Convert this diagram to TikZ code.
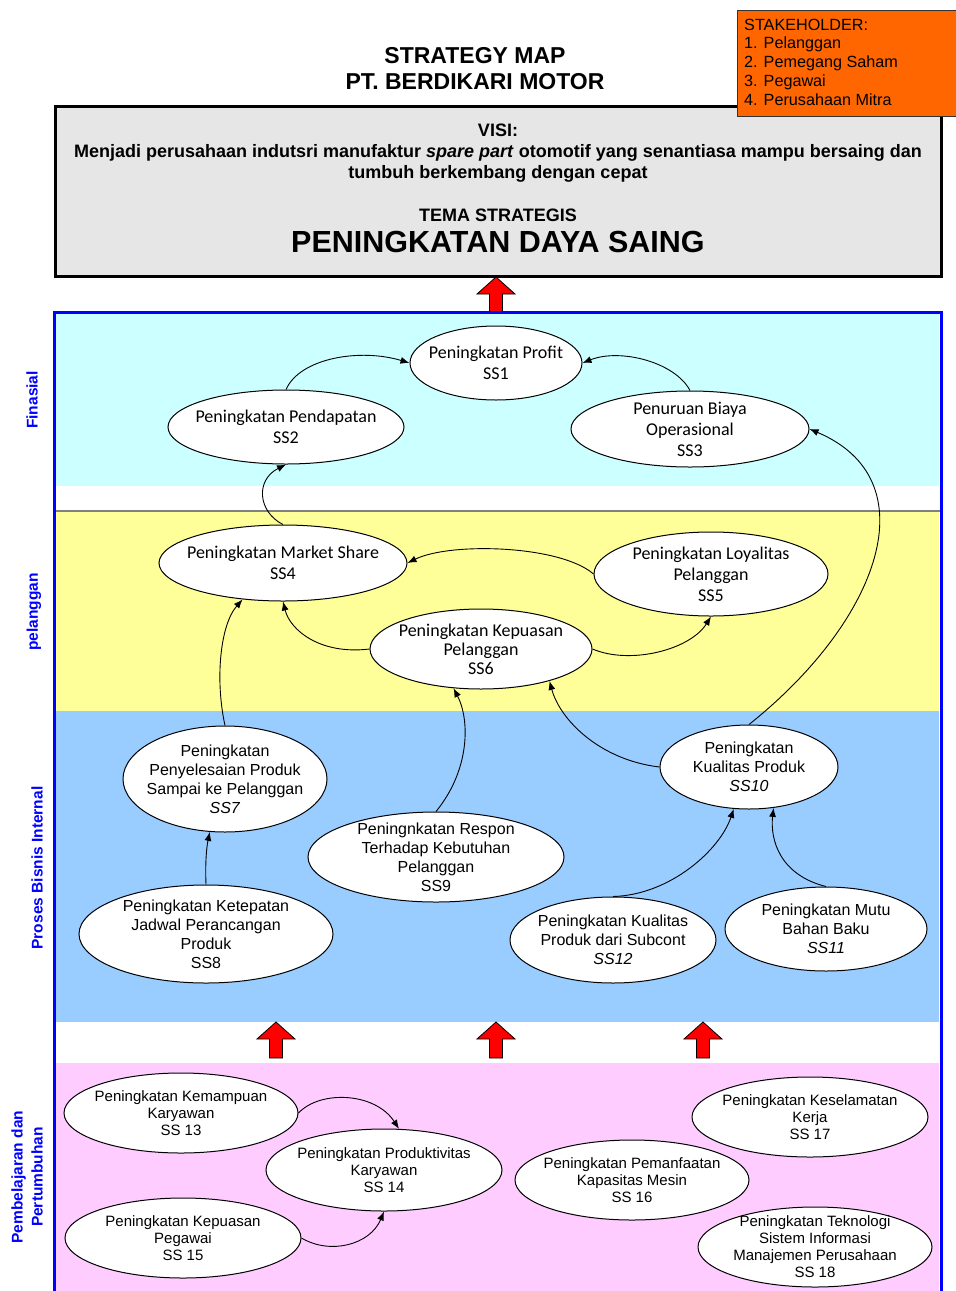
\documentclass[tikz,border=0pt]{standalone}
\usepackage{fontspec}
\setmainfont{Liberation Sans}
\newfontfamily\calibri{Carlito}
\usepackage{xcolor}
\usetikzlibrary{arrows.meta,shapes.geometric}
\definecolor{finbg}{HTML}{CCFFFF}
\definecolor{cusbg}{HTML}{FFFF99}
\definecolor{intbg}{HTML}{99CCFF}
\definecolor{lrnbg}{HTML}{FFCCFF}
\definecolor{visibg}{HTML}{E6E6E6}
\definecolor{stakebg}{HTML}{FF6600}
\definecolor{persp}{HTML}{0000FF}
\tikzset{%
	goal/.style        = {draw, ellipse, fill=white, line width=1pt, inner sep=-15pt, align=center, text centered},
	goalA/.style       = {goal, font=\calibri\fontsize{18}{21}\selectfont},
	goalB/.style       = {goal, font=\fontsize{16}{19}\selectfont},
	goalC/.style       = {goal, font=\fontsize{15}{17}\selectfont},
	link/.style        = {line width=0.9pt, -{Latex[length=9pt,width=7pt]}},
	perspective/.style = {rotate=90, text=persp, align=center, font=\bfseries\fontsize{15.5}{20}\selectfont},
	blockarrow/.style  = {fill=red, draw=black, line width=0.8pt},
}
\begin{document}
\begin{tikzpicture}[x=1pt,y=-1pt]
	\useasboundingbox (0,0) rectangle (956,1291);
	\clip (0,0) rectangle (956,1291);
	% perspektif
	\fill[finbg] (55,313) rectangle (939,486);
	\fill[cusbg] (55,512) rectangle (939,711);
	\fill[intbg] (55,711) rectangle (939,1022);
	\fill[lrnbg] (55,1063) rectangle (939,1300);
	\draw[gray, line width=1.5] (55,511) -- (941,511);
	\foreach \ax/\ay in {496/277, 276/1022, 496/1022, 703/1022}
		\draw[blockarrow] (\ax,\ay) -- ++(19,17) -- ++(-12.5,0) -- ++(0,19) -- ++(-13,0) -- ++(0,-19) -- ++(-12.5,0) -- cycle;
	\draw[persp, line width=3] (54,1300) -- (54,312) -- (941,312) -- (941,1300);
	\node[perspective] (pfin) at (32,400) {Finasial};
	\node[perspective] (pcus) at (34,612) {pelanggan};
	\node[perspective] (pint) at (37,868) {Proses Bisnis Internal};
	\node[perspective] (plrn) at (27,1177) {Pembelajaran dan\\Pertumbuhan};
	% judul, visi
	\node[align=center, font=\bfseries\fontsize{23}{26}\selectfont] (title) at (475,69) {STRATEGY MAP\\PT. BERDIKARI MOTOR};
	\draw[fill=visibg, line width=3] (55,106) rectangle (941,276);
	\node[align=center, font=\bfseries\fontsize{18}{21}\selectfont] (visi) at (498,153) {VISI:\\Menjadi perusahaan indutsri manufaktur \textit{spare part} otomotif yang senantiasa mampu bersaing dan\\tumbuh berkembang dengan cepat};
	\node[font=\bfseries\fontsize{18}{21}\selectfont] (tema) at (498,215) {TEMA STRATEGIS};
	\node[font=\bfseries\fontsize{30.5}{33}\selectfont] (daya) at (498,242) {PENINGKATAN DAYA SAING};
	\draw[fill=stakebg, draw=black!80, line width=0.8] (737,10) rectangle (970,116);
	\node[anchor=north west, inner sep=0pt, align=left, font=\fontsize{16.2}{18.8}\selectfont] (stake) at (744,18.5) {STAKEHOLDER:\\1. Pelanggan\\2. Pemegang Saham\\3. Pegawai\\4. Perusahaan Mitra};
	% sasaran strategis
	\node[goalA, minimum width=172, minimum height=74] (ss1) at (496,363) {Peningkatan Profit\\SS1};
	\node[goalA, minimum width=236, minimum height=74] (ss2) at (286,427) {Peningkatan Pendapatan\\SS2};
	\node[goalA, minimum width=238, minimum height=76] (ss3) at (690,429) {Penuruan Biaya\\Operasional\\SS3};
	\node[goalA, minimum width=248, minimum height=76] (ss4) at (283,563) {Peningkatan Market Share\\SS4};
	\node[goalA, minimum width=234, minimum height=84] (ss5) at (711,574) {Peningkatan Loyalitas\\Pelanggan\\SS5};
	\node[goalA, font=\calibri\fontsize{18}{19}\selectfont, minimum width=222, minimum height=80] (ss6) at (481,649) {Peningkatan Kepuasan\\Pelanggan\\SS6};
	\node[goalB, minimum width=204, minimum height=106] (ss7) at (225,779) {Peningkatan\\Penyelesaian Produk\\Sampai ke Pelanggan\\\textit{SS7}};
	\node[goalB, minimum width=254, minimum height=98] (ss8) at (206,934) {Peningkatan Ketepatan\\Jadwal Perancangan\\Produk\\SS8};
	\node[goalB, minimum width=256, minimum height=90] (ss9) at (436,857) {Peningnkatan Respon\\Terhadap Kebutuhan\\Pelanggan\\SS9};
	\node[goalB, minimum width=178, minimum height=84] (ss10) at (749,767) {Peningkatan\\Kualitas Produk\\\textit{SS10}};
	\node[goalB, minimum width=202, minimum height=84] (ss11) at (826,929) {Peningkatan Mutu\\Bahan Baku\\\textit{SS11}};
	\node[goalB, minimum width=206, minimum height=86] (ss12) at (613,940) {Peningkatan Kualitas\\Produk dari Subcont\\\textit{SS12}};
	\node[goalC, minimum width=234, minimum height=80] (ss13) at (181,1113) {Peningkatan Kemampuan\\Karyawan\\SS 13};
	\node[goalC, minimum width=236, minimum height=82] (ss14) at (384,1170) {Peningkatan Produktivitas\\Karyawan\\SS 14};
	\node[goalC, minimum width=236, minimum height=80] (ss15) at (183,1238) {Peningkatan Kepuasan\\Pegawai\\SS 15};
	\node[goalC, minimum width=234, minimum height=80] (ss16) at (632,1180) {Peningkatan Pemanfaatan\\Kapasitas Mesin\\SS 16};
	\node[goalC, minimum width=236, minimum height=80] (ss17) at (810,1117) {Peningkatan Keselamatan\\Kerja\\SS 17};
	\node[goalC, minimum width=234, minimum height=80] (ss18) at (815,1247) {Peningkatan Teknologi\\Sistem Informasi\\Manajemen Perusahaan\\SS 18};
	% hubungan sebab akibat
	\draw[link] (ss2.north) .. controls (300,358) and (360,348) .. (ss1.west);
	\draw[link] (ss3.north) .. controls (675,362) and (620,348) .. (ss1.east);
	\draw[link] (ss4.north) .. controls (258,512) and (255,480) .. (ss2.south);
	\draw[link] (ss5.west) .. controls (560,545) and (450,542) .. (ss4.east);
	\draw[link] (ss6.west) .. controls (320,655) and (290,630) .. (ss4.south);
	\draw[link] (ss6.east) .. controls (630,665) and (690,650) .. (ss5.south);
	\draw[link] (ss7.north) .. controls (215,680) and (220,625) .. (ss4.222);
	\draw[link] (ss9.north) .. controls (470,770) and (470,720) .. (ss6.235);
	\draw[link] (ss10.west) .. controls (600,760) and (560,720) .. (ss6.335);
	\draw[link] (ss10.north) .. controls (880,620) and (930,480) .. (ss3.east);
	\draw[link] (ss8.north) .. controls (205,860) and (207,845) .. (ss7.254);
	\draw[link] (ss12.north) .. controls (670,895) and (720,850) .. (ss10.250);
	\draw[link] (ss11.north) .. controls (780,875) and (770,840) .. (ss10.301);
	\draw[link] (ss13.east) .. controls (320,1090) and (375,1092) .. (ss14.70);
	\draw[link] (ss15.east) .. controls (330,1255) and (370,1245) .. (ss14.south);
\end{tikzpicture}
\end{document}
